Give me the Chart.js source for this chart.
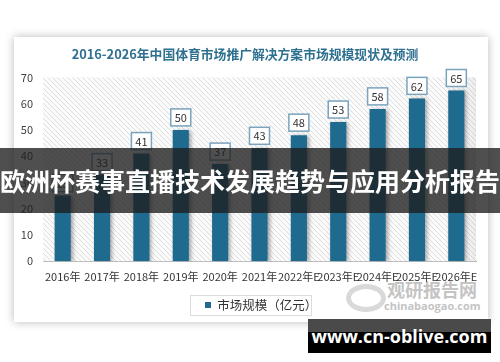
<!DOCTYPE html>
<html>
<head>
<meta charset="utf-8">
<script src="https://cdn.jsdelivr.net/npm/chart.js@4"></script>
<style>
  body { margin: 0; background: #fff; width: 500px; height: 362px; overflow: hidden; position: relative; font-family: "Noto Sans CJK SC", sans-serif; }
  #card { position: absolute; left: 14px; top: 37px; width: 474px; height: 285px; background: #fff; box-shadow: 0 0 9px rgba(0,0,0,0.28); }
  #wrap { position: absolute; left: 0; top: 0; width: 500px; height: 362px; }
  #mark { position: absolute; left: 345px; top: 280px; width: 140px; height: 36px; color: #c4c4c4; white-space: nowrap; }
  #mark .logo { position: absolute; left: 1px; top: 4px; width: 30px; height: 18px; border: 5px solid #d9d9d9; border-radius: 50%; }
  #mark .cn { position: absolute; left: 42px; top: 0px; font-size: 18px; line-height: 19px; font-weight: bold; }
  #mark .en { position: absolute; left: 39px; top: 20px; font-size: 11px; line-height: 12px; font-family: "Open Sans", sans-serif; font-weight: bold; }
  #banner { position: absolute; left: 0; top: 148px; width: 500px; height: 65px; background: rgba(30,30,30,0.78); color: #fff; font-size: 25px; font-weight: bold; line-height: 65px; text-align: center; white-space: nowrap; }
  #site { position: absolute; left: 308px; top: 319px; width: 183px; height: 34px; background: #000; }
  #site .band { position: absolute; left: 0; top: 0; width: 183px; height: 13px; background: #4a4a4a; }
  #site .txt { position: absolute; left: 0; top: 0; width: 183px; line-height: 34px; text-align: center; color: #fff; font-size: 18px; font-weight: bold; font-family: "Open Sans", sans-serif; }
</style>
</head>
<body>
<div id="card"></div>
<div id="mark"><div class="logo"></div><div class="cn">观研报告网</div><div class="en">chinabaogao.com</div></div>
<div id="wrap"><canvas id="c" width="500" height="362"></canvas></div>
<div id="banner">欧洲杯赛事直播技术发展趋势与应用分析报告</div>
<div id="site"><div class="band"></div><div class="txt">www.cn-oblive.com</div></div>
<script>
// ---- data ----
let years = ['2016年', '2017年', '2018年', '2019年', '2020年', '2021年', '2022年E', '2023年E', '2024年E', '2025年E', '2026年E'];
let marketSize = [25, 33, 41, 50, 37, 43, 48, 53, 58, 62, 65];
let yTicks = [0, 10, 20, 30, 40, 50, 60, 70];

let barColor = '#1e6b8f';
let fontCN = '"Noto Sans CJK SC", sans-serif';

// hatch pattern for plot background
function makeHatch() {
  let p = document.createElement('canvas');
  p.width = 5; p.height = 5;
  let g = p.getContext('2d');
  g.fillStyle = '#fbfbfb';
  g.fillRect(0, 0, 5, 5);
  g.strokeStyle = '#dedede';
  g.lineWidth = 1;
  g.beginPath();
  g.moveTo(0, 0); g.lineTo(5, 5);
  g.moveTo(-1, 4); g.lineTo(1, 6);
  g.moveTo(4, -1); g.lineTo(6, 1);
  g.stroke();
  return g.createPattern(p, 'repeat');
}

let legendShift = { dx: 0, dy: 0 };

const hatchBg = {
  id: 'hatchBg',
  beforeDraw(chart) {
    // put the legend where the original has it
    let lg = chart.legend;
    if (lg && !lg._moved && lg.legendHitBoxes.length) {
      let hb = lg.legendHitBoxes[0];
      legendShift.dx = 205 - hb.left;
      legendShift.dy = 305 - (hb.top + hb.height / 2);
      lg.left += legendShift.dx; lg.right += legendShift.dx;
      lg.top += legendShift.dy; lg.bottom += legendShift.dy;
      lg._moved = true;
    }
  },
  beforeDatasetsDraw(chart) {
    let a = chart.chartArea, ctx = chart.ctx;
    ctx.save();
    ctx.fillStyle = makeHatch();
    ctx.fillRect(a.left, a.top, a.right - a.left, a.bottom - a.top);
    // slight shade towards right edge
    let gr = ctx.createLinearGradient(a.right - 20, 0, a.right, 0);
    gr.addColorStop(0, 'rgba(0,0,0,0)');
    gr.addColorStop(1, 'rgba(0,0,0,0.06)');
    ctx.fillStyle = gr;
    ctx.fillRect(a.right - 20, a.top, 20, a.bottom - a.top);
    ctx.restore();
    // shadow for bars
    ctx.save();
    ctx.shadowColor = 'rgba(0,0,0,0.35)';
    ctx.shadowBlur = 4;
    ctx.shadowOffsetX = 2;
    ctx.shadowOffsetY = 1;
  },
  afterDatasetsDraw(chart) {
    let ctx = chart.ctx;
    ctx.restore();
    // value boxes
    let meta = chart.getDatasetMeta(0);
    ctx.save();
    ctx.font = '11px ' + fontCN;
    ctx.textAlign = 'center';
    ctx.textBaseline = 'middle';
    meta.data.forEach((bar, i) => {
      let w = 20, h = 17;
      let x = bar.x - w / 2, y = bar.y - 4 - h;
      ctx.fillStyle = '#fff';
      ctx.fillRect(x, y, w, h);
      ctx.strokeStyle = '#7aa3bd';
      ctx.lineWidth = 1.5;
      ctx.strokeRect(x, y, w, h);
      ctx.fillStyle = '#333';
      ctx.fillText(marketSize[i], bar.x, y + h / 2 + 0.5);
    });
    ctx.restore();
  },
  afterDraw(chart) {
    // border round the legend
    let box = chart.legend;
    if (!box || !box.legendHitBoxes.length) return;
    let hb = box.legendHitBoxes[0];
    let ctx = chart.ctx;
    let left = Math.round(hb.left + legendShift.dx - 15);
    let top = Math.round(hb.top + hb.height / 2 + legendShift.dy - 10);
    ctx.save();
    ctx.strokeStyle = '#dcdcdc';
    ctx.lineWidth = 1;
    ctx.strokeRect(left + 0.5, top + 0.5, 121, 20);
    ctx.restore();
  }
};

new Chart(document.getElementById('c'), {
  type: 'bar',
  data: {
    labels: years,
    datasets: [{
      label: '市场规模（亿元）',
      data: marketSize,
      backgroundColor: barColor,
      borderWidth: 0,
      categoryPercentage: 1,
      barPercentage: 0.41
    }]
  },
  options: {
    responsive: false,
    animation: false,
    layout: { padding: { left: 14, right: 24, top: 0, bottom: 41 } },
    plugins: {
      title: {
        display: true,
        text: '2016-2026年中国体育市场推广解决方案市场规模现状及预测',
        color: '#2e7090',
        font: { family: fontCN, size: 12.8, weight: 'bold' },
        padding: { top: 46, bottom: 16 }
      },
      legend: {
        position: 'bottom',
        labels: {
          boxWidth: 6, boxHeight: 6,
          color: '#333',
          font: { family: fontCN, size: 12.5 },
          padding: 6
        }
      },
      tooltip: { enabled: false }
    },
    scales: {
      x: {
        grid: { display: false, drawTicks: false },
        border: { color: '#a6a6a6', width: 1 },
        ticks: {
          color: '#333', font: { family: fontCN, size: 11 },
          autoSkip: false, maxRotation: 0, minRotation: 0, padding: 9
        }
      },
      y: {
        min: 0, max: 70,
        afterBuildTicks(axis) { axis.ticks = yTicks.map(v => ({ value: v })); },
        afterFit(axis) { axis.width = 29; },
        grid: { display: false, drawTicks: false },
        border: { display: false },
        ticks: { color: '#404040', font: { family: fontCN, size: 11 }, padding: 10 }
      }
    }
  },
  plugins: [hatchBg]
});
</script>
</body>
</html>
